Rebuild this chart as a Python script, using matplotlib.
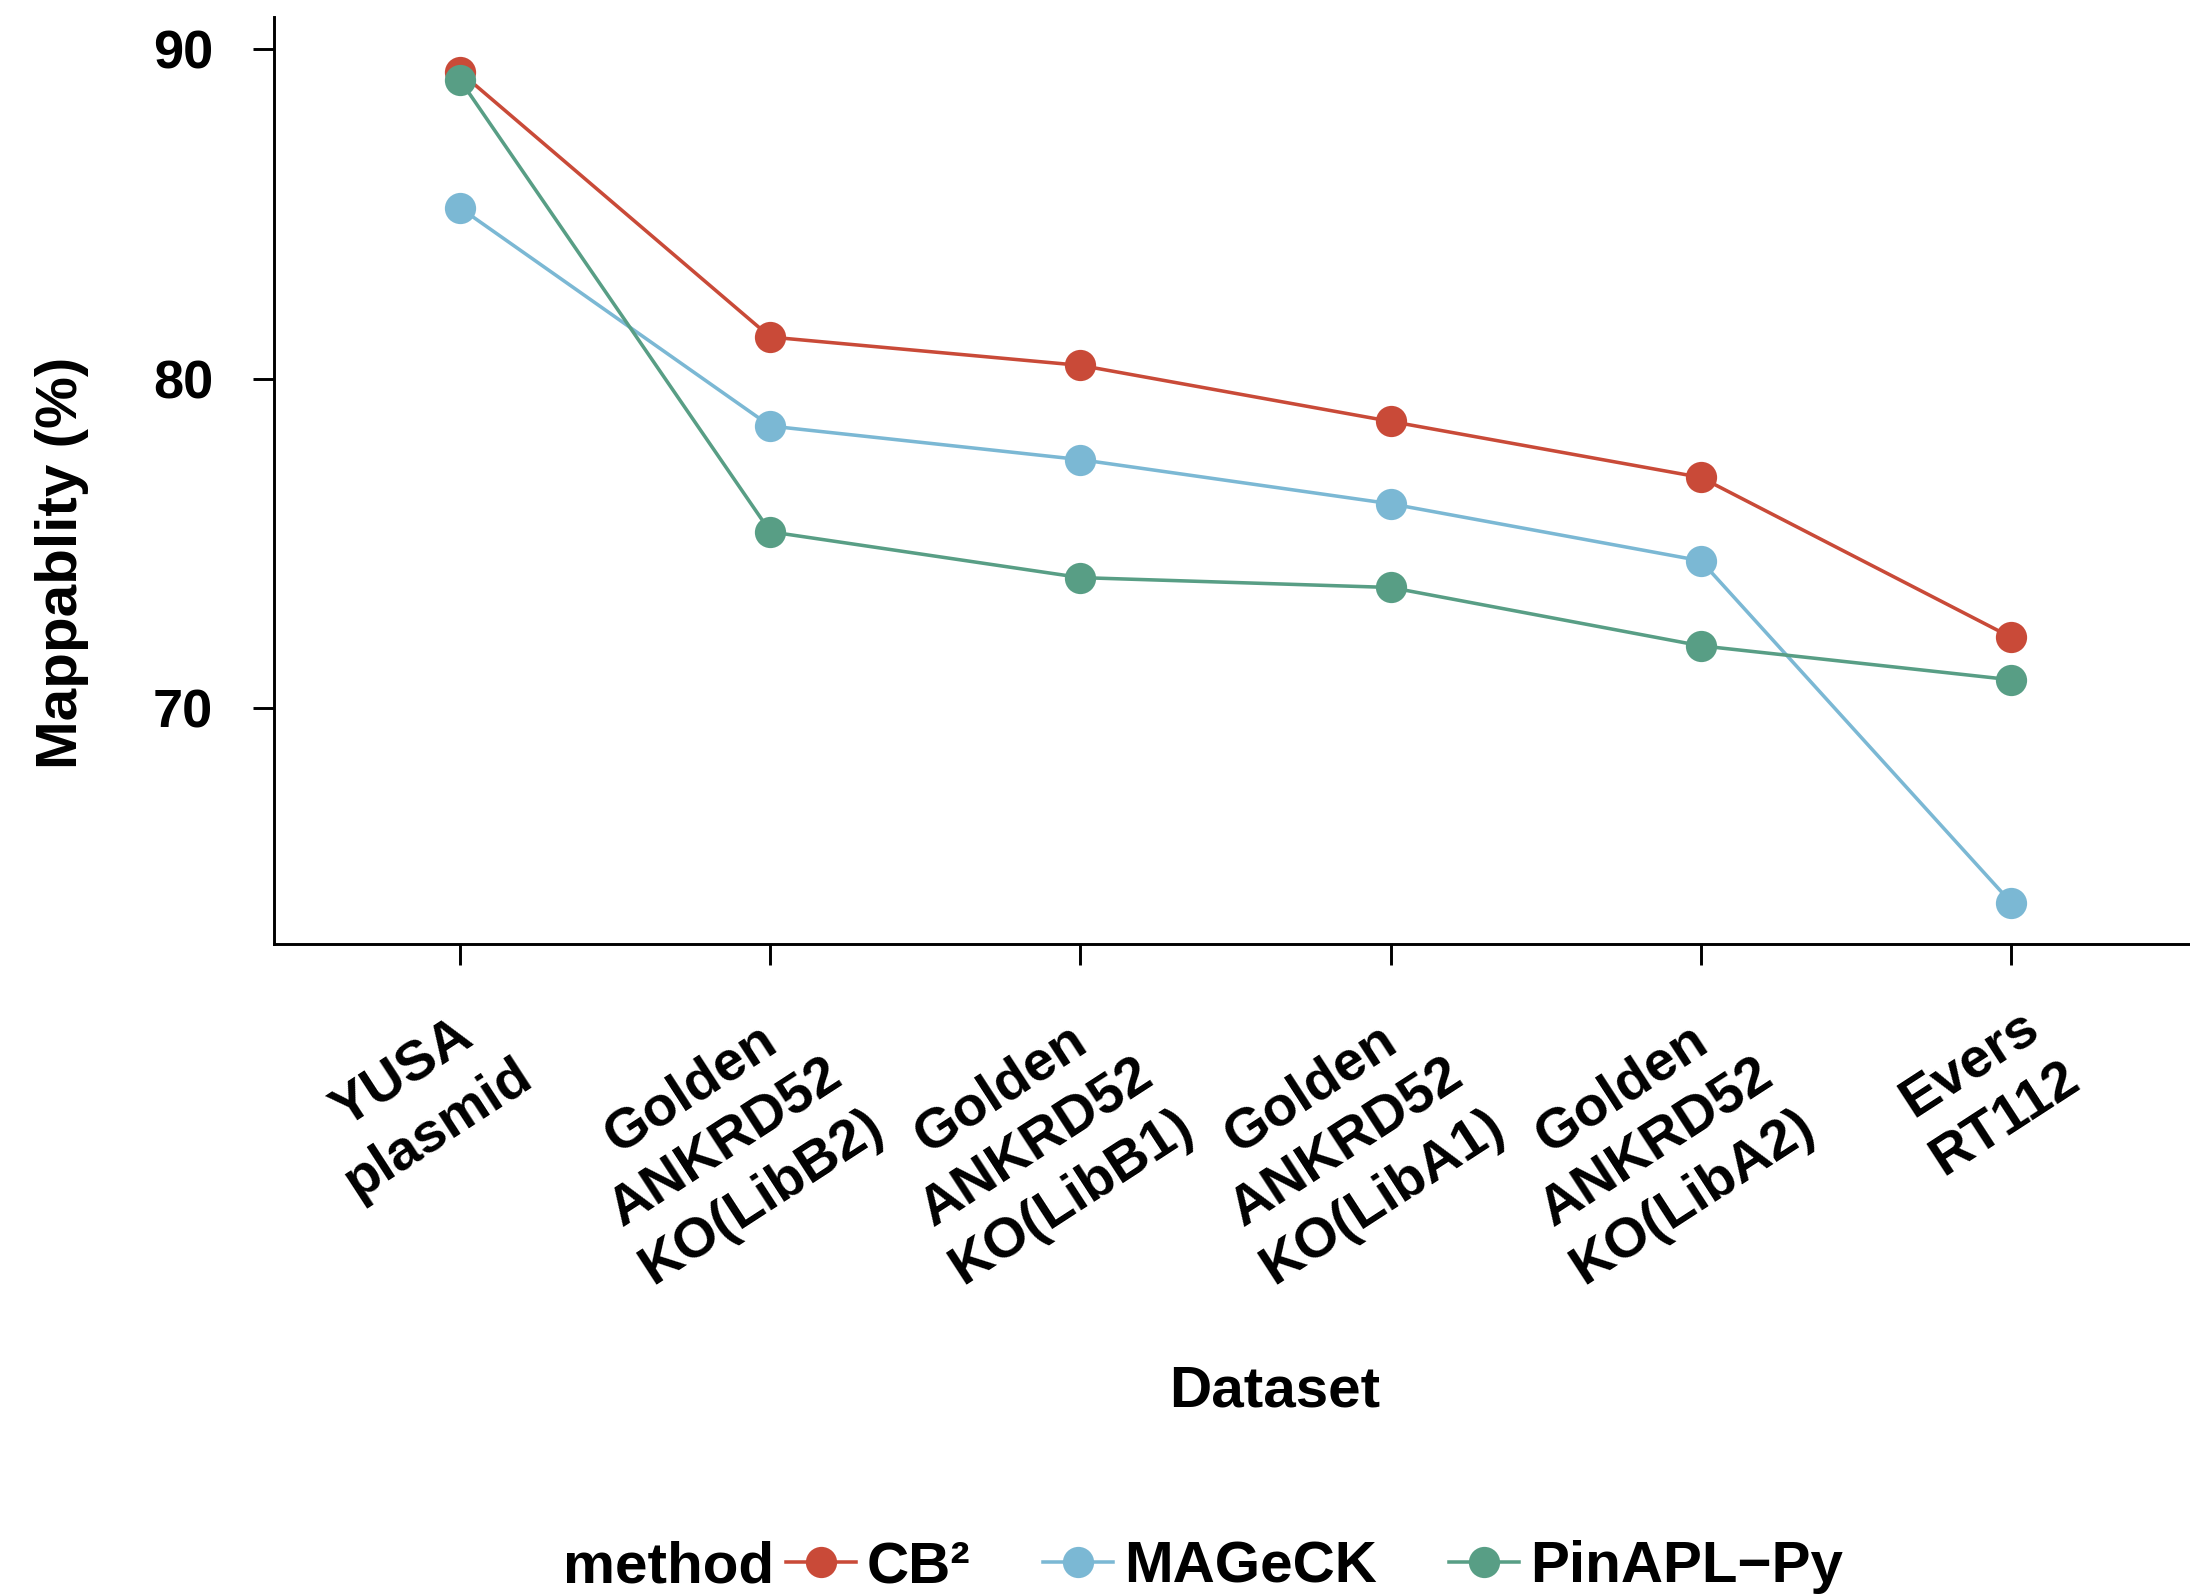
import matplotlib
matplotlib.use("Agg")
import matplotlib.pyplot as plt
from matplotlib.lines import Line2D
from matplotlib.transforms import ScaledTranslation
import numpy as np

plt.rcParams["font.family"] = ["Liberation Sans", "DejaVu Sans"]
plt.rcParams["font.weight"] = "bold"
plt.rcParams["axes.labelweight"] = "bold"

# mappability per dataset, one list per method
datasets = [
    "YUSA\nplasmid",
    "Golden\nANKRD52\nKO(LibB2)",
    "Golden\nANKRD52\nKO(LibB1)",
    "Golden\nANKRD52\nKO(LibA1)",
    "Golden\nANKRD52\nKO(LibA2)",
    "Evers\nRT112",
]
methods = ["CB²", "MAGeCK", "PinAPL\u2212Py"]
cb2 = [89.3, 81.26, 80.4, 78.7, 77.0, 72.15]
mageck = [85.18, 78.56, 77.54, 76.2, 74.47, 64.1]
pinapl = [89.06, 75.35, 73.96, 73.66, 71.89, 70.86]
colors = ["#C94A38", "#7BB8D4", "#589E85"]
yticks = [70, 80, 90]

series = [cb2, mageck, pinapl]
x = np.arange(len(datasets))
angle = 33
hjust = 0.9

fig = plt.figure(figsize=(7.3, 5.32), dpi=300)
ax = fig.add_axes([0.1251, 0.4085, 0.8782, 0.5808])

# lines first, points on top of every line
for vals, c in zip(series, colors):
    ax.plot(x, vals, color=c, lw=0.85, zorder=2)
for vals, c in zip(series, colors):
    ax.plot(x, vals, "o", color=c, ms=7.5, mec="none", zorder=3)

ax.set_xlim(-0.6, 5.6)
ax.set_ylim(62.84, 90.97)
ax.set_yticks(yticks)
ax.set_xticks(x)
ax.set_xticklabels(datasets, rotation=angle, ha="right", va="top",
                   rotation_mode="anchor", multialignment="center",
                   linespacing=1.32, fontsize=13.5)

for s in ["top", "right"]:
    ax.spines[s].set_visible(False)
for s in ["left", "bottom"]:
    ax.spines[s].set_linewidth(0.7)

ax.tick_params(length=5, width=0.7, color="black", labelsize=13)
ax.tick_params(axis="y", pad=9.6)
ax.tick_params(axis="x", pad=10, labelsize=13.5)

ax.set_ylabel("Mappablity (%)", fontsize=14)
ax.yaxis.set_label_coords(-0.0963, 0.411)
ax.set_xlabel("Dataset", fontsize=14)
ax.xaxis.set_label_coords(0.5203, -0.454)

handles = [Line2D([], [], color=c, lw=0.85, marker="o", ms=7.5, mec="none")
           for c in colors]
fig.legend(handles, methods, loc="center left",
           bbox_to_anchor=(786 / 2190, 0.018), ncol=3, frameon=False,
           borderpad=0, borderaxespad=0, handlelength=1.2,
           handletextpad=0.19, columnspacing=1.24,
           prop={"size": 14, "weight": "bold"})
fig.text(563 / 2190, 0.018, "method", ha="left", va="center", fontsize=14)

# slide each rotated label along its own direction so the block is
# justified at hjust of its widest line instead of its right edge
fig.canvas.draw()
renderer = fig.canvas.get_renderer()
theta = np.deg2rad(angle)
for lab in ax.get_xticklabels():
    w = max(renderer.get_text_width_height_descent(
        line, lab.get_fontproperties(), ismath=False)[0]
        for line in lab.get_text().split("\n"))
    shift = (1 - hjust) * w / fig.dpi
    lab.set_transform(lab.get_transform() + ScaledTranslation(
        shift * np.cos(theta), shift * np.sin(theta), fig.dpi_scale_trans))

fig.savefig("out.png", dpi=300)
